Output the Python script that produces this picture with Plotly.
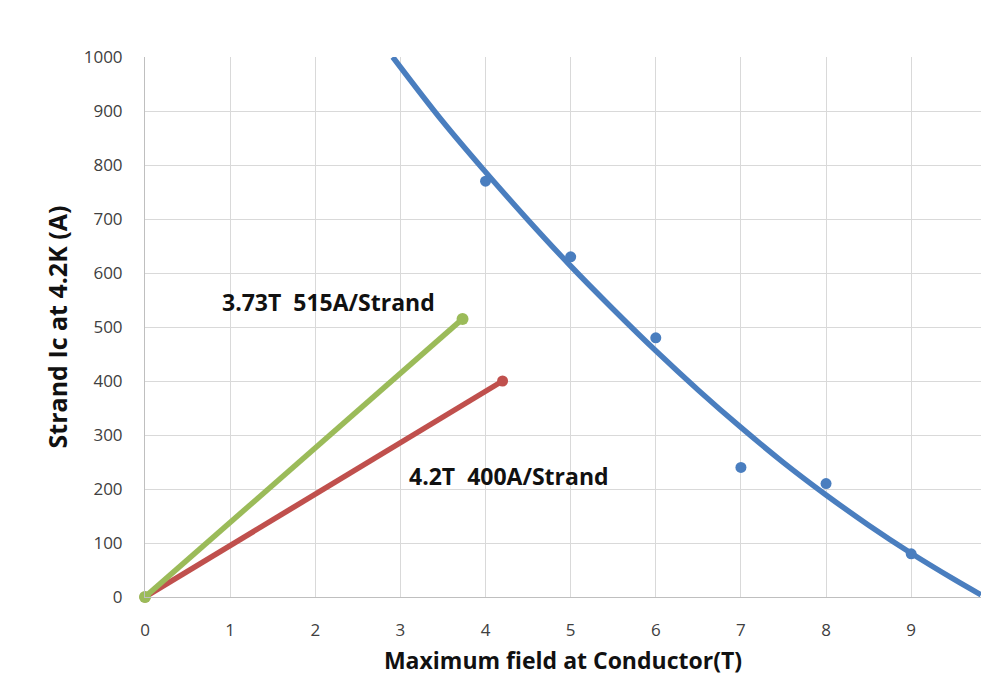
import plotly.graph_objects as go

# Measured points (blue)
meas_x = [4, 5, 6, 7, 8, 9]
meas_y = [770, 630, 480, 240, 210, 80]

# Trend curve (blue)
trend_x = [2.91, 3.5, 4, 4.5, 5, 5.5, 6, 6.5, 7, 7.5, 8, 8.5, 9, 9.5, 9.82]
trend_y = [1000, 880, 787, 698, 613, 533, 456, 383, 314, 249, 189, 133, 81, 33, 4]

# Load lines
green_x = [0, 3.73]
green_y = [0, 515]
red_x = [0, 4.2]
red_y = [0, 400]

x_ticks = [0, 1, 2, 3, 4, 5, 6, 7, 8, 9]
y_ticks = [0, 100, 200, 300, 400, 500, 600, 700, 800, 900, 1000]

BLUE = "#4a7ebf"
GREEN = "#9bbb59"
RED = "#c0504d"
TXT = "#111111"

fig = go.Figure()
fig.add_trace(go.Scatter(x=trend_x, y=trend_y, mode="lines",
                         line=dict(color=BLUE, width=5.5, shape="spline"),
                         showlegend=False, hoverinfo="skip"))
fig.add_trace(go.Scatter(x=meas_x, y=meas_y, mode="markers",
                         marker=dict(color=BLUE, size=11), showlegend=False))
fig.add_trace(go.Scatter(x=red_x, y=red_y, mode="lines+markers", cliponaxis=False,
                         line=dict(color=RED, width=5.5),
                         marker=dict(color=RED, size=11), showlegend=False))
fig.add_trace(go.Scatter(x=green_x, y=green_y, mode="lines+markers", cliponaxis=False,
                         line=dict(color=GREEN, width=5.5),
                         marker=dict(color=GREEN, size=12), showlegend=False))

fig.add_annotation(x=2.16, y=546, text="3.73T  515A/Strand", showarrow=False,
                   font=dict(family="Open Sans", size=23, color=TXT, weight="bold"))
fig.add_annotation(x=4.27, y=225, text="4.2T  400A/Strand", showarrow=False,
                   font=dict(family="Open Sans", size=23, color=TXT, weight="bold"))

fig.update_layout(
    width=981, height=681,
    margin=dict(l=145, r=0, t=57, b=84),
    paper_bgcolor="white", plot_bgcolor="white",
    font=dict(family="Open Sans", color="#404040", size=17),
)
fig.update_xaxes(
    range=[0, 9.82], tickvals=x_ticks, ticktext=[str(v) for v in x_ticks],
    showgrid=True, gridcolor="#d9d9d9", gridwidth=1,
    zeroline=False, showline=True, linecolor="#bfbfbf", linewidth=1,
    ticks="", ticklabelstandoff=18,
    title=dict(text="<b>Maximum field at Conductor(T)</b>",
               font=dict(family="Open Sans", size=23, color=TXT), standoff=12),
)
fig.update_yaxes(
    range=[0, 1000], tickvals=y_ticks, ticktext=[str(v) for v in y_ticks],
    showgrid=True, gridcolor="#d9d9d9", gridwidth=1,
    zeroline=False, showline=True, linecolor="#bfbfbf", linewidth=1,
    ticks="", ticklabelstandoff=18,
    title=dict(text="<b>Strand Ic at 4.2K (A)</b>",
               font=dict(family="Open Sans", size=25, color=TXT), standoff=8),
)

fig.write_html("out.html", config={"displayModeBar": False},
               post_script="document.body.style.margin='0';document.body.style.overflow='hidden';")
